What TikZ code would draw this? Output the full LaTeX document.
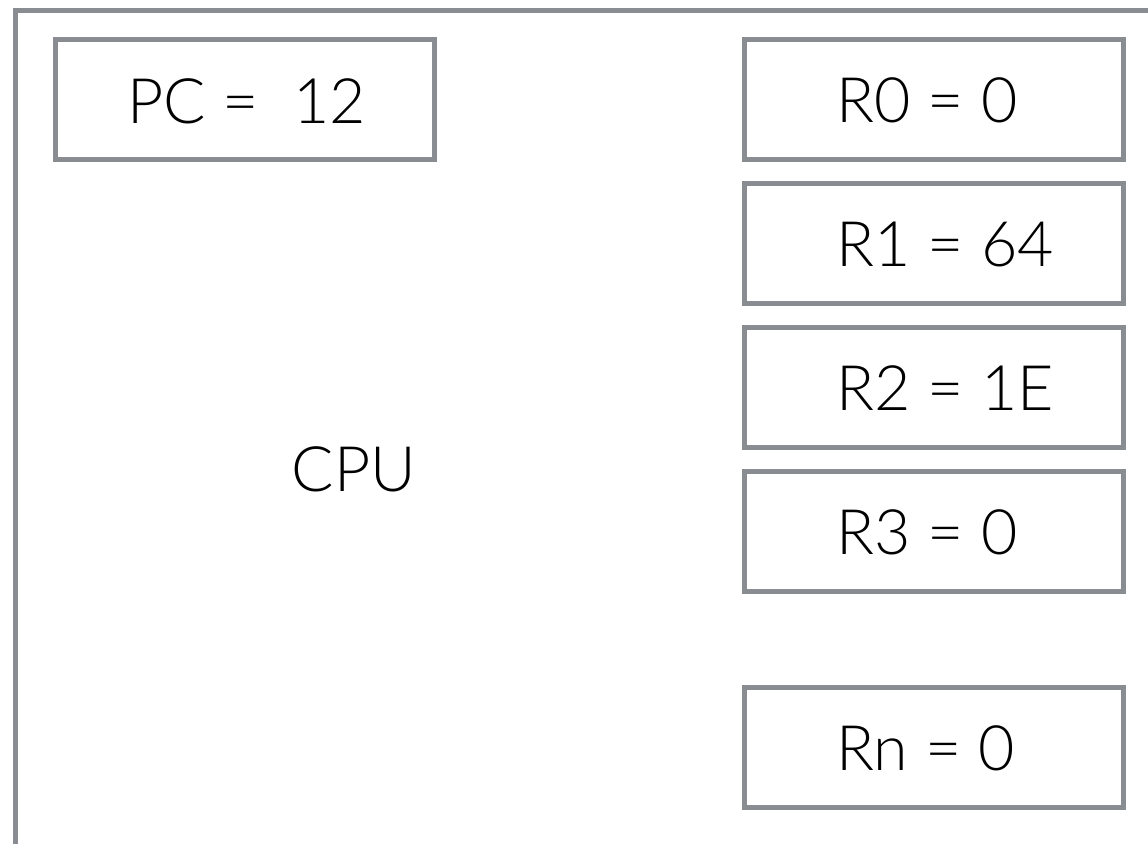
\documentclass[tikz,border=0pt]{standalone}
\usepackage{fontspec}
\setmainfont{Lato}[UprightFont={* Light}]
\definecolor{linegray}{HTML}{898C90}
\tikzset{
  frame/.style={draw=linegray, line width=3.75pt},
  regbox/.style={frame, rectangle, inner sep=0pt,
    minimum width=284.25pt, minimum height=90pt},
  regtext/.style={anchor=base west, inner sep=0pt,
    font=\fontsize{47pt}{56pt}\selectfont},
}
\begin{document}
\begin{tikzpicture}[x=0.75pt,y=-0.75pt]
  \useasboundingbox (0,0) rectangle (1148,843);
  \clip (0,0) rectangle (1148,843);
  % CPU enclosure, running past the right and bottom edges
  \draw[frame] (15.8,10) coordinate (cpuNW) rectangle (1200,900) coordinate (cpuSE);
  % program counter
  \node[regbox] (pc) at (245,99.5) {};
  \node[regtext] (pclabel) at (127,123.3) {PC =~~12};
  % register file
  \node[regbox] (r0) at (933.5,99.5) {};
  \node[regbox] (r1) at (933.5,243.5) {};
  \node[regbox] (r2) at (933.5,387.5) {};
  \node[regbox] (r3) at (933.5,531.5) {};
  \node[regbox] (rn) at (933.5,747.5) {};
  \node[regtext] (r0label) at (836,122.8) {R0 = 0};
  \node[regtext] (r1label) at (836,266.8) {R1 = 64};
  \node[regtext] (r2label) at (836,410.8) {R2 = 1E};
  \node[regtext] (r3label) at (836,554.8) {R3 = 0};
  \node[regtext] (rnlabel) at (836,770.8) {Rn = 0};
  % CPU caption
  \node[regtext, anchor=base] (cpulabel) at (354,491.7) {CPU};
\end{tikzpicture}
\end{document}
